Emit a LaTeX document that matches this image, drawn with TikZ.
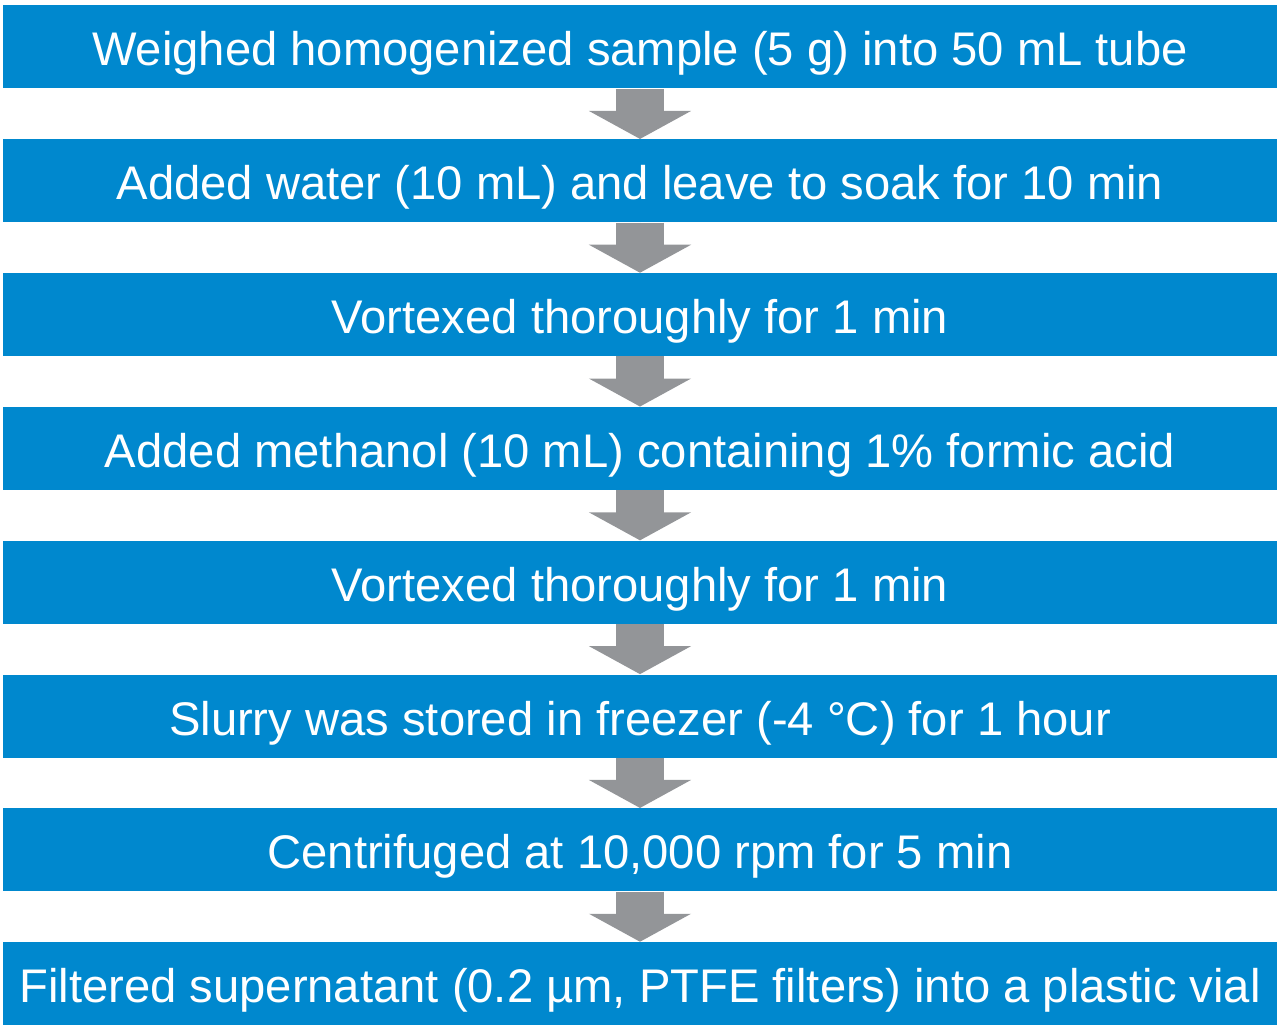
\documentclass[tikz,border=0pt]{standalone}
\usepackage{fontspec}
\setmainfont{Liberation Sans}
\usepackage{xcolor}
\usepackage{tikz}
\usetikzlibrary{arrows.meta,positioning}

\definecolor{stepblue}{HTML}{0088CE}
\definecolor{flowgray}{HTML}{939598}

\begin{document}
\begin{tikzpicture}[-,
    node distance=2.676cm,
    font=\fontsize{26.85pt}{32pt}\selectfont]
  \tikzstyle{stepbox}=[fill=stepblue,draw=none,text=white,
    minimum width=25.48cm,minimum height=1.66cm,inner sep=0pt,
    text height=0.76cm,text depth=0pt]
  \tikzstyle{flow}=[draw=flowgray,line width=0.96cm,
    -{Triangle[width=2.02cm,length=0.56cm]},fill=flowgray]

  \useasboundingbox (0,0) rectangle (25.6,-20.64);

  \node[stepbox] (s1) at (12.8,-0.94) {Weighed homogenized sample (5 g) into 50 mL tube};
  \node[stepbox] (s2) [below of=s1] {Added water (10 mL) and leave to soak for 10 min};
  \node[stepbox] (s3) [below of=s2] {Vortexed thoroughly for 1 min};
  \node[stepbox] (s4) [below of=s3] {Added methanol (10 mL) containing 1\% formic acid};
  \node[stepbox] (s5) [below of=s4] {Vortexed thoroughly for 1 min};
  \node[stepbox] (s6) [below of=s5] {Slurry was stored in freezer (-4 °C) for 1 hour};
  \node[stepbox] (s7) [below of=s6] {Centrifuged at 10,000 rpm for 5 min};
  \node[stepbox] (s8) [below of=s7] {Filtered supernatant (0.2 µm, PTFE filters) into a plastic vial};

  \path (s1) edge [flow] (s2)
        (s2) edge [flow] (s3)
        (s3) edge [flow] (s4)
        (s4) edge [flow] (s5)
        (s5) edge [flow] (s6)
        (s6) edge [flow] (s7)
        (s7) edge [flow] (s8);
\end{tikzpicture}
\end{document}
